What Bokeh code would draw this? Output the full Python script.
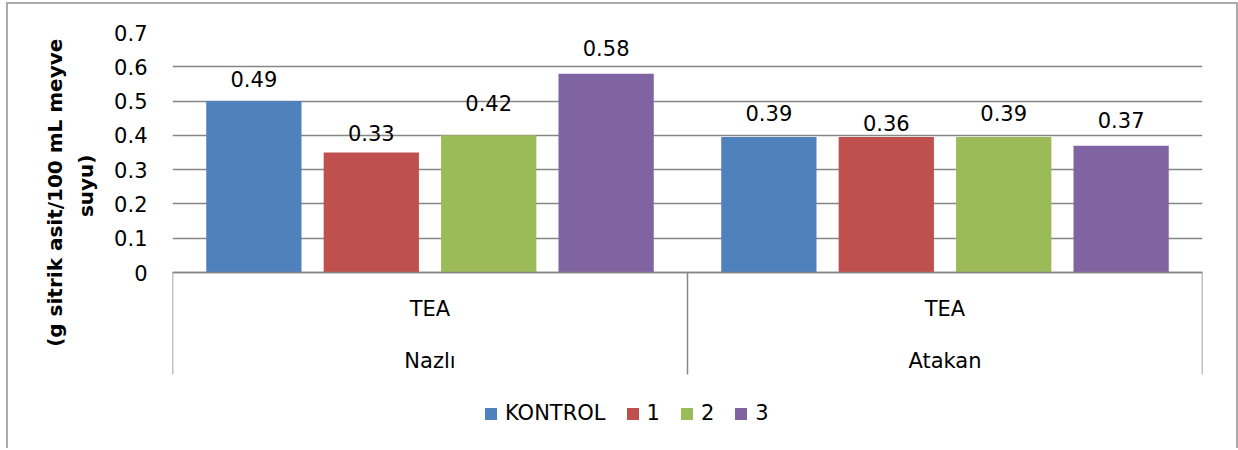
from bokeh.plotting import figure
from bokeh.models import Range1d, LinearAxis, FixedTicker, Legend, LegendItem, Grid
from bokeh.embed import file_html
from bokeh.resources import INLINE
from bokeh.core.properties import value

# ---------------- data ----------------
cultivars = ["Nazlı", "Atakan"]
treatments = ["TEA", "TEA"]
series_names = ["KONTROL", "1", "2", "3"]
# bar heights as drawn
kontrol_vals = [0.50, 0.395]
s1_vals = [0.35, 0.395]
s2_vals = [0.40, 0.395]
s3_vals = [0.58, 0.37]
# data-label values printed above the bars
kontrol_lbls = [0.49, 0.39]
s1_lbls = [0.33, 0.36]
s2_lbls = [0.42, 0.39]
s3_lbls = [0.58, 0.37]
y_ticks = [0, 0.1, 0.2, 0.3, 0.4, 0.5, 0.6, 0.7]
y_tick_labels = ["0", "0.1", "0.2", "0.3", "0.4", "0.5", "0.6", "0.7"]
y_title_lines = ["(g sitrik asit/100 mL meyve", "suyu)"]

# ---------------- style / layout ----------------
colors = ["#4F81BD", "#C0504D", "#9BBB59", "#8064A2"]
FONT = "DejaVu Sans"
GRAY = "#868686"
BORDER = "2px solid #ababab"
W, H = 1232, 446
FRAME_W, FRAME_H = 1030, 418
PX_PER_UNIT = 240 / 0.7
Y_MIN = -(FRAME_H - 240) / PX_PER_UNIT
BAR_W = 0.185
STEP = 0.228
NBSP = "\u00a0"
# non-breaking padding lifts the (rotated, centred) title towards the plot's upper part
title_text = "\n".join([NBSP * 14 + y_title_lines[0], NBSP * 16 + y_title_lines[1]])

centers = [i + 0.5 for i in range(len(cultivars))]
edges = [float(i) for i in range(len(cultivars) + 1)]

p = figure(width=W, height=H, x_range=Range1d(0, len(cultivars)), y_range=Range1d(Y_MIN, 0.7),
           output_backend="svg", toolbar_location=None,
           x_axis_type=None, y_axis_type=None,
           min_border_left=164, min_border_right=W - 164 - FRAME_W, min_border_top=28,
           min_border_bottom=0)
p.outline_line_color = None
p.background_fill_color = "white"
p.border_fill_color = "white"
p.styles = {"margin-left": "6px", "margin-top": "2px",
            "border-left": BORDER, "border-top": BORDER, "border-right": BORDER}

yticker = FixedTicker(ticks=y_ticks)
p.add_layout(Grid(dimension=1, ticker=yticker, grid_line_color=GRAY, grid_line_width=1.5))

yax = LinearAxis(ticker=yticker,
                 major_label_overrides={t: l for t, l in zip(y_ticks, y_tick_labels)},
                 axis_line_color=None, major_tick_line_color=None, minor_tick_line_color=None,
                 major_tick_out=0, major_tick_in=0, minor_tick_out=0, minor_tick_in=0,
                 major_label_standoff=25,
                 major_label_text_font=FONT, major_label_text_font_size="21px",
                 major_label_text_color="black")
p.add_layout(yax, "left")

# y title axis (only carries the two-line bold title)
ytit = LinearAxis(ticker=FixedTicker(ticks=[]),
                  axis_line_color=None, major_tick_line_color=None, minor_tick_line_color=None,
                  major_tick_out=0, major_tick_in=0, minor_tick_out=0, minor_tick_in=0,
                  major_label_text_font_size="0px",
                  axis_label=title_text, axis_label_standoff=14,
                  axis_label_text_font=FONT, axis_label_text_font_size="20px",
                  axis_label_text_font_style="bold", axis_label_text_color="black",
                  axis_label_text_line_height=1.29)
p.add_layout(ytit, "left")

xax1 = LinearAxis(ticker=FixedTicker(ticks=centers, minor_ticks=edges), fixed_location=0,
                  major_label_overrides={c: t for c, t in zip(centers, treatments)},
                  axis_line_color=GRAY, axis_line_width=1.5,
                  major_tick_out=0, major_tick_in=0, major_tick_line_color=None,
                  minor_tick_out=102, minor_tick_in=0, minor_tick_line_color=GRAY,
                  minor_tick_line_width=1.5,
                  major_label_standoff=24 - 102, major_label_text_font=FONT,
                  major_label_text_font_size="21px", major_label_text_color="black")
p.add_layout(xax1, "below")

xax2 = LinearAxis(ticker=FixedTicker(ticks=centers), fixed_location=0,
                  major_label_overrides={c: t for c, t in zip(centers, cultivars)},
                  axis_line_color=None, major_tick_line_color=None, minor_tick_line_color=None,
                  major_tick_out=0, major_tick_in=0, minor_tick_out=0, minor_tick_in=0,
                  major_label_standoff=76, major_label_text_font=FONT,
                  major_label_text_font_size="21px", major_label_text_color="black")
p.add_layout(xax2, "below")

vals = [kontrol_vals, s1_vals, s2_vals, s3_vals]
lbls = [kontrol_lbls, s1_lbls, s2_lbls, s3_lbls]
items = []
for i, (name, v, lb, col) in enumerate(zip(series_names, vals, lbls, colors)):
    xs = [c + (i - 1.5) * STEP for c in centers]
    r = p.vbar(x=xs, top=v, width=BAR_W, fill_color=col, line_color=None)
    p.text(x=xs, y=lb, text=[f"{t:.2f}" for t in lb], text_align="center",
           text_baseline="alphabetic", y_offset=-26,
           text_font=value(FONT), text_font_size="21px", text_color="black")
    items.append(LegendItem(label=name, renderers=[r]))

legend = Legend(items=items, orientation="horizontal", location=(311, 25),
                glyph_width=15, glyph_height=15, label_standoff=7, spacing=19,
                label_width=0, padding=0, margin=0, border_line_color=None,
                background_fill_alpha=0,
                label_text_font=FONT, label_text_font_size="21px", label_text_color="black",
                label_height=15)
p.add_layout(legend, "center")

open("out.html", "w").write(file_html(p, INLINE))
